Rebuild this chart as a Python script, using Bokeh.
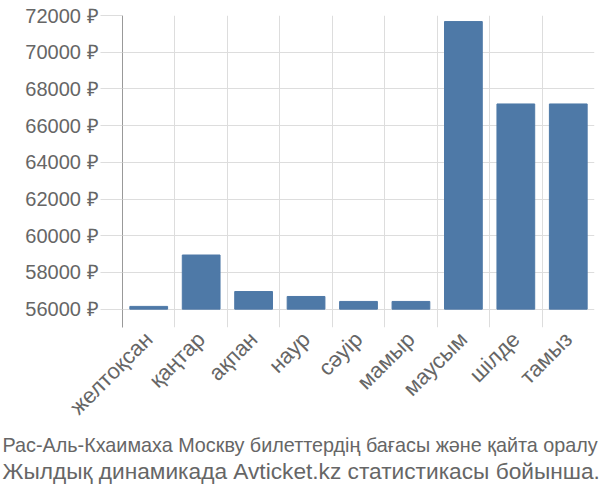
import math
from bokeh.plotting import figure
from bokeh.models import FixedTicker, PrintfTickFormatter, CustomJSTickFormatter, Title, Range1d
from bokeh.embed import file_html
from bokeh.resources import INLINE

months = ["желтоқсан", "қаңтар", "ақпан", "наур", "сәуір", "мамыр", "маусым", "шілде", "тамыз"]
prices = [56150, 58950, 56960, 56690, 56420, 56420, 71670, 67180, 67180]
yticks = [56000, 58000, 60000, 62000, 64000, 66000, 68000, 70000, 72000]
title_lines = ["Рас-Аль-Кхаимаха Москву билеттердің бағасы және қайта оралу",
               "Жылдық динамикада Avticket.kz статистикасы бойынша."]

xs = [i + 0.5 for i in range(len(months))]

p = figure(width=600, height=500, output_backend="svg", toolbar_location=None,
           x_range=Range1d(0, len(months)), y_range=Range1d(55000, 72000),
           min_border_left=122, min_border_right=6, min_border_top=15, min_border_bottom=173)
p.outline_line_color = None
p.background_fill_color = "white"

p.vbar(x=xs, top=prices, bottom=56000, width=0.72, fill_color="#4e79a7", line_color="#4e79a7")

text_color = "#666666"
font = "Liberation Sans"

p.yaxis.ticker = FixedTicker(ticks=yticks)
p.yaxis.formatter = PrintfTickFormatter(format="%d ₽")
p.yaxis.major_label_text_font = font
p.yaxis.major_label_text_font_size = "20px"
p.yaxis.major_label_text_color = text_color
p.yaxis.major_tick_out = 22
p.yaxis.major_tick_in = 0
p.yaxis.major_tick_line_color = "#dddddd"
p.yaxis.minor_tick_line_color = None
p.yaxis.axis_line_color = "#999999"
p.yaxis.major_label_standoff = 2

p.xaxis.ticker = FixedTicker(ticks=xs)
p.xaxis.formatter = CustomJSTickFormatter(args=dict(labels=months),
                                          code="return labels[Math.floor(tick)];")
p.xaxis.major_label_orientation = math.pi / 4
p.xaxis.major_label_text_font = font
p.xaxis.major_label_text_font_size = "22px"
p.xaxis.major_label_text_color = text_color
p.xaxis.axis_line_color = None
p.xaxis.major_tick_line_color = None
p.xaxis.minor_tick_line_color = None
p.xaxis.major_label_standoff = 2

p.xgrid.ticker = FixedTicker(ticks=list(range(len(months) + 1)))
p.xgrid.grid_line_color = "#dddddd"
p.ygrid.grid_line_color = "#dddddd"

sizes = ["19.8px", "22.7px"]
for t, s in zip(title_lines, sizes):
    p.add_layout(Title(text=t, align="left", text_font=font, text_font_size=s,
                       text_font_style="normal", text_color=text_color,
                       standoff=0, offset=-120), "below")

open("out.html", "w").write(file_html(p, INLINE))
